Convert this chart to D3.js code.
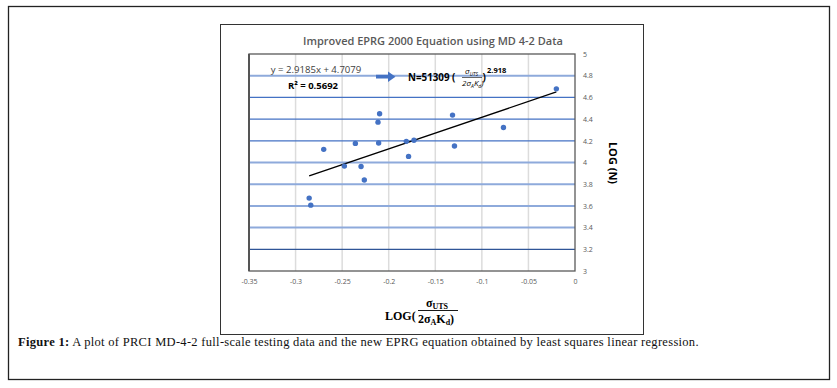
<!DOCTYPE html>
<html lang="en">
<head>
  <meta charset="UTF-8">
  <title>Figure 1</title>
  <script src="https://d3js.org/d3.v7.min.js"></script>
  <style>
    * { margin: 0; padding: 0; box-sizing: border-box; }
    body { background: #fff; width: 837px; height: 388px; overflow: hidden; }
    svg text { font-family: "Open Sans", "Noto Sans", sans-serif; }
    .serif { font-family: "Liberation Serif", "DejaVu Serif", serif !important; }
  </style>
</head>
<body>
  <div id="chart"></div>
  <script>
    // test data
    const logRatio = [-0.2854, -0.2837, -0.2698, -0.2476, -0.2358, -0.2297, -0.2262, -0.2115, -0.2098,
                      -0.2108, -0.1811, -0.1729, -0.1787, -0.1315, -0.1294, -0.0768, -0.0200];
    const logN = [3.672, 3.607, 4.121, 3.967, 4.176, 3.963, 3.839, 4.372, 4.450,
                  4.180, 4.195, 4.205, 4.056, 4.437, 4.152, 4.323, 4.679];
    // fitted line end points
    const trendX = [-0.2854, -0.0200];
    const trendY = [3.876, 4.650];
    const xTicks = [-0.35, -0.3, -0.25, -0.2, -0.15, -0.1, -0.05, 0];
    const yTicks = [3, 3.2, 3.4, 3.6, 3.8, 4, 4.2, 4.4, 4.6, 4.8, 5];
    const chartTitle = "Improved EPRG 2000 Equation using MD 4-2 Data";
    const eqText = "y = 2.9185x + 4.7079";
    const r2Text = "R² = 0.5692";
    const caption = " A plot of PRCI MD-4-2 full-scale testing data and the new EPRG equation obtained by least squares linear regression.";

    // gridline look
    const darkGrid = [3.2, 4.2, 4.4, 4.6];

    const W = 837, H = 388;
    const plot = {left: 249, right: 575, top: 54, bottom: 271};

    const svg = d3.select("#chart").append("svg")
      .attr("width", W).attr("height", H);

    // outer figure frame
    svg.append("rect")
      .attr("x", 8.5).attr("y", 6.5).attr("width", 821).attr("height", 373)
      .attr("fill", "none").attr("stroke", "#222").attr("stroke-width", 1.3);

    // chart frame
    svg.append("rect")
      .attr("x", 220.5).attr("y", 24.5).attr("width", 423).attr("height", 310)
      .attr("fill", "#fff").attr("stroke", "#333").attr("stroke-width", 1);

    const x = d3.scaleLinear().domain([-0.35, 0]).range([plot.left, plot.right]);
    const y = d3.scaleLinear().domain([3, 5]).range([plot.bottom, plot.top]);

    // vertical grid
    svg.append("g")
      .selectAll("line")
      .data(xTicks.slice(1, -1))
      .join("line")
      .attr("x1", d => x(d)).attr("x2", d => x(d))
      .attr("y1", plot.top).attr("y2", plot.bottom)
      .attr("stroke", "#dcdcdc").attr("stroke-width", 1.5);

    // horizontal grid
    svg.append("g")
      .selectAll("line")
      .data(yTicks.slice(1, -1))
      .join("line")
      .attr("x1", plot.left).attr("x2", plot.right)
      .attr("y1", d => y(d)).attr("y2", d => y(d))
      .attr("stroke", d => d === 3.2 ? "#2f5597" : darkGrid.includes(d) ? "#4472c4" : "#8eaadb")
      .attr("stroke-width", d => darkGrid.includes(d) ? 1.2 : 2);

    // plot border
    svg.append("rect")
      .attr("x", plot.left).attr("y", plot.top)
      .attr("width", plot.right - plot.left).attr("height", plot.bottom - plot.top)
      .attr("fill", "none").attr("stroke", "#595959").attr("stroke-width", 1.3);
    svg.append("line")
      .attr("x1", plot.left).attr("x2", plot.left)
      .attr("y1", plot.top).attr("y2", plot.bottom)
      .attr("stroke", "#555").attr("stroke-width", 2);

    // x tick labels
    const xAxis = svg.append("g")
      .attr("transform", `translate(0,${plot.bottom + 5})`)
      .call(d3.axisBottom(x).tickValues(xTicks).tickSize(0).tickFormat(d => d === 0 ? "0" : String(d)));
    xAxis.select(".domain").remove();
    xAxis.selectAll("text").attr("fill", "#595959").style("font-size", "7px");

    // y tick labels on the right
    const yAxis = svg.append("g")
      .attr("transform", `translate(${plot.right + 5},0)`)
      .call(d3.axisRight(y).tickValues(yTicks).tickSize(0).tickFormat(d => String(d)));
    yAxis.select(".domain").remove();
    yAxis.selectAll("text").attr("fill", "#595959").style("font-size", "7px");

    // trend line
    svg.append("path")
      .datum(trendX.map((v, i) => [v, trendY[i]]))
      .attr("d", d3.line().x(d => x(d[0])).y(d => y(d[1])))
      .attr("fill", "none").attr("stroke", "#000").attr("stroke-width", 1.3);

    // points
    svg.append("g")
      .selectAll("circle")
      .data(logRatio.map((v, i) => [v, logN[i]]))
      .join("circle")
      .attr("cx", d => x(d[0])).attr("cy", d => y(d[1]))
      .attr("r", 2.7)
      .attr("fill", "#4472c4");

    // title
    svg.append("text")
      .attr("x", 433).attr("y", 45)
      .attr("text-anchor", "middle")
      .attr("fill", "#595959")
      .style("font-size", "11px").style("font-weight", 600)
      .text(chartTitle);

    // equation + R²
    svg.append("text")
      .attr("x", 316).attr("y", 73)
      .attr("text-anchor", "middle").attr("fill", "#404040")
      .style("font-size", "9.6px")
      .text(eqText);
    svg.append("text")
      .attr("x", 313).attr("y", 89)
      .attr("text-anchor", "middle").attr("fill", "#000")
      .style("font-size", "9.5px").style("font-weight", "bold")
      .text(r2Text);

    // block arrow
    svg.append("path")
      .attr("d", "M376,74.8 L388,74.8 L388,71.5 L395.5,76.7 L388,81.9 L388,78.6 L376,78.6 Z")
      .attr("fill", "#4472c4");

    // N = ... formula
    svg.append("text")
      .attr("x", 408).attr("y", 80.5)
      .attr("fill", "#000")
      .style("font-size", "9.8px").style("font-weight", "bold")
      .text("N=51309 (");
    const num = svg.append("text")
      .attr("x", 471.5).attr("y", 74).attr("text-anchor", "middle")
      .style("font-size", "8px").style("font-style", "italic");
    num.append("tspan").text("σ");
    num.append("tspan").attr("dy", 1.5).style("font-size", "5px").text("UTS");
    svg.append("line")
      .attr("x1", 462).attr("x2", 482).attr("y1", 77.5).attr("y2", 77.5)
      .attr("stroke", "#000").attr("stroke-width", 0.6);
    const den = svg.append("text")
      .attr("x", 462).attr("y", 86)
      .style("font-size", "8px").style("font-style", "italic");
    den.append("tspan").text("2σ");
    den.append("tspan").attr("dy", 1.5).style("font-size", "5px").text("A");
    den.append("tspan").attr("dy", -1.5).text("K");
    den.append("tspan").attr("dy", 1.5).style("font-size", "5px").text("d");
    den.append("tspan").attr("dy", -1.5).text(")");
    svg.append("text")
      .attr("x", 482.5).attr("y", 80.5)
      .style("font-size", "10px").style("font-weight", "bold")
      .text(")");
    svg.append("text")
      .attr("x", 487).attr("y", 73)
      .style("font-size", "7.5px").style("font-weight", "bold")
      .text("2.918");

    // y axis title
    svg.append("text")
      .attr("transform", "translate(609,163) rotate(90)")
      .attr("text-anchor", "middle")
      .attr("fill", "#000")
      .style("font-size", "11px").style("font-weight", "bold")
      .text("LOG (N)");

    // x axis title (serif, fraction)
    svg.append("text")
      .attr("class", "serif")
      .attr("x", 385).attr("y", 320)
      .style("font-size", "12px").style("font-weight", "bold")
      .text("LOG(");
    const xnum = svg.append("text")
      .attr("class", "serif")
      .attr("x", 437).attr("y", 307).attr("text-anchor", "middle")
      .style("font-size", "12px").style("font-weight", "bold");
    xnum.append("tspan").text("σ");
    xnum.append("tspan").attr("dy", 2).style("font-size", "8px").text("UTS");
    svg.append("line")
      .attr("x1", 418).attr("x2", 458).attr("y1", 310.5).attr("y2", 310.5)
      .attr("stroke", "#000").attr("stroke-width", 0.9);
    const xden = svg.append("text")
      .attr("class", "serif")
      .attr("x", 418).attr("y", 323)
      .style("font-size", "12px").style("font-weight", "bold");
    xden.append("tspan").text("2σ");
    xden.append("tspan").attr("dy", 2).style("font-size", "8px").text("A");
    xden.append("tspan").attr("dy", -2).text("K");
    xden.append("tspan").attr("dy", 2).style("font-size", "8px").text("d");
    xden.append("tspan").attr("dy", -2).text(")");

    // figure caption
    const cap = svg.append("text")
      .attr("class", "serif")
      .attr("x", 18).attr("y", 346)
      .attr("fill", "#111")
      .style("font-size", "12.5px")
      .style("letter-spacing", "0.3px");
    cap.append("tspan").style("font-weight", "bold").text("Figure 1:");
    cap.append("tspan").text(caption);
  </script>
</body>
</html>
